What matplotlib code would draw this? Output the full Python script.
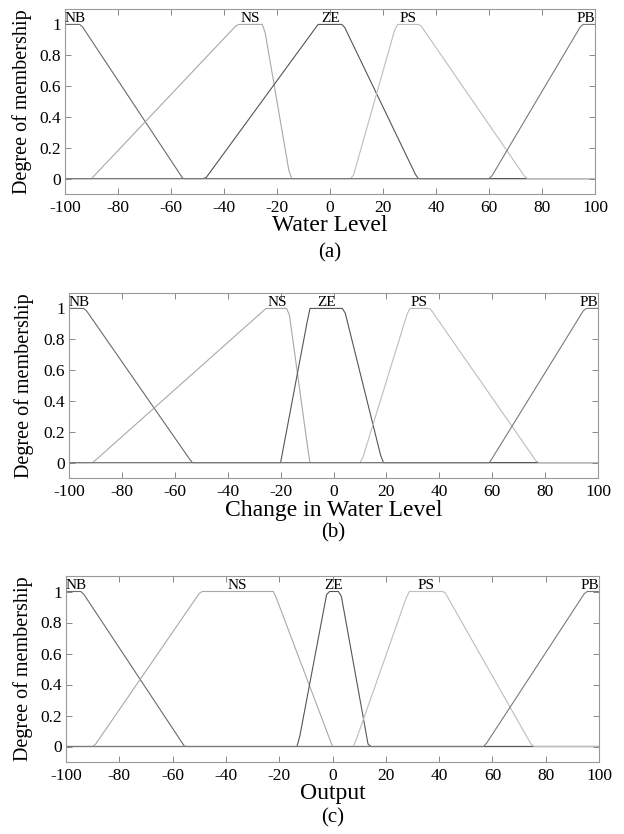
import numpy as np
import matplotlib
matplotlib.use('Agg')
import matplotlib.pyplot as plt

plt.rcParams['font.family'] = ['Liberation Serif', 'DejaVu Serif']
plt.rcParams['axes.unicode_minus'] = False

# membership function labels and trapezoid params [a, b, c, d]
mf_labels = ['NB', 'NS', 'ZE', 'PS', 'PB']
water_level_mf = [[-100, -100, -94, -55.5],
                  [-90, -35, -25, -15],
                  [-47, -4.5, 5, 33],
                  [8.5, 25, 34, 74],
                  [60.5, 95, 100, 100]]
change_mf = [[-100, -100, -94, -53.5],
             [-91, -25.5, -17, -9],
             [-20, -9, 4, 18.5],
             [10.5, 28.5, 36.5, 77],
             [59, 95, 100, 100]]
output_mf = [[-100, -100, -94, -55.5],
             [-89.5, -49.5, -22, 0],
             [-13, -2, 3, 13.5],
             [8, 28.5, 42, 75],
             [57, 95, 100, 100]]

x_ticks = [-100, -80, -60, -40, -20, 0, 20, 40, 60, 80, 100]
y_ticks = [0, 0.2, 0.4, 0.6, 0.8, 1]
y_ticklabels = ['0', '0.2', '0.4', '0.6', '0.8', '1']

mf_colors = ['#6a6a6a', '#a8a8a8', '#555555', '#bdbdbd', '#7a7a7a']


def trapmf(x, p):
    a, b, c, d = p
    if b > a:
        up = (x - a) / (b - a)
    else:
        up = np.where(x >= a, 1.0, 0.0)
    if d > c:
        down = (d - x) / (d - c)
    else:
        down = np.where(x <= d, 1.0, 0.0)
    return np.clip(np.minimum(np.minimum(up, down), 1.0), 0, 1)


def draw_panel(ax, params, xlabel, xpad, caption, cap_y, ylab_x):
    x = np.linspace(-100, 100, 181)
    for i, p in enumerate(params):
        ax.plot(x, trapmf(x, p), color=mf_colors[i], lw=0.8)
        if i == 0:
            ax.text(-100, 1.017, mf_labels[i], ha='left', va='baseline', fontsize=11)
        elif i == len(params) - 1:
            ax.text(100, 1.017, mf_labels[i], ha='right', va='baseline', fontsize=11)
        else:
            ax.text((p[1] + p[2]) / 2, 1.017, mf_labels[i], ha='center',
                    va='baseline', fontsize=11)
    ax.set_xlim(-100, 100)
    ax.set_ylim(-0.1, 1.1)
    ax.set_xticks(x_ticks)
    ax.set_yticks(y_ticks)
    ax.set_yticklabels(y_ticklabels)
    ax.tick_params(direction='in', length=4, width=0.7, color='#888888',
                   top=True, right=True, labelsize=12.5, pad=3)
    ax.tick_params(axis='x', pad=4)
    for s in ax.spines.values():
        s.set_color('#999999')
        s.set_linewidth(0.8)
    ax.set_xlabel(xlabel, fontsize=17, labelpad=xpad)
    ax.set_ylabel('Degree of membership', fontsize=14.5)
    ax.yaxis.set_label_coords(ylab_x, 0.5)
    fig.text(0.5 * (ax.get_position().x0 + ax.get_position().x1), cap_y, caption,
             ha='center', va='center', fontsize=15)


W, H = 624, 834
fig = plt.figure(figsize=(W / 100, H / 100), dpi=100)

ax1 = fig.add_axes([65 / W, 1 - 194 / H, 530 / W, 185 / H])
ax2 = fig.add_axes([69 / W, 1 - 478 / H, 529 / W, 185 / H])
ax3 = fig.add_axes([66 / W, 1 - 762 / H, 533 / W, 186 / H])

draw_panel(ax1, water_level_mf, 'Water Level', -0.5, '(a)', 1 - 253 / H, (32 - 65) / 530)
draw_panel(ax2, change_mf, 'Change in Water Level', 0, '(b)', 1 - 533 / H, (34 - 69) / 529)
draw_panel(ax3, output_mf, 'Output', -0.5, '(c)', 1 - 818 / H, (33 - 66) / 533)

fig.savefig('out.png', dpi=100)
